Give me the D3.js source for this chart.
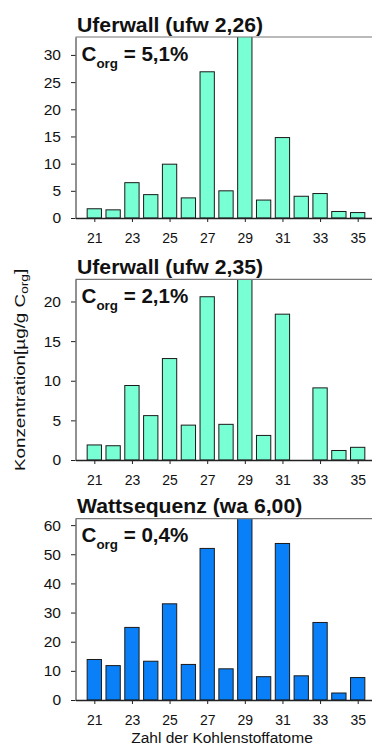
<!DOCTYPE html>
<html>
<head>
<meta charset="utf-8">
<script src="https://cdn.jsdelivr.net/npm/d3@7"></script>
<style>
  body { margin: 0; background: #fff; }
  svg { display: block; font-family: "Liberation Sans", Arial, sans-serif; }
</style>
</head>
<body>
<svg width="372" height="745"></svg>
<script>
const carbons = [21, 22, 23, 24, 25, 26, 27, 28, 29, 30, 31, 32, 33, 34, 35];
const xTickLabels = [21, 23, 25, 27, 29, 31, 33, 35];

// C29 bars run past the top of each panel, so their real height is a guess
const ufw226 = [1.7, 1.5, 6.5, 4.3, 9.9, 3.7, 26.9, 5.0, 36, 3.3, 14.8, 4.0, 4.5, 1.2, 1.0];
const ufw235 = [1.9, 1.8, 9.4, 5.6, 12.8, 4.4, 20.6, 4.5, 25, 3.1, 18.4, 0, 9.1, 1.2, 1.6];
const wa600 = [13.9, 11.8, 24.9, 13.3, 33.0, 12.2, 52.0, 10.7, 68, 8.0, 53.7, 8.3, 26.6, 2.4, 7.7];

const titles = ['Uferwall (ufw 2,26)', 'Uferwall (ufw 2,35)', 'Wattsequenz (wa 6,00)'];
const corgValues = ['5,1%', '2,1%', '0,4%'];
const yMax = [33.3, 22.8, 62.2];
const yTicks = [[0, 5, 10, 15, 20, 25, 30], [0, 5, 10, 15, 20], [0, 10, 20, 30, 40, 50, 60]];
const series = [ufw226, ufw235, wa600];
const colors = ['#78ffd4', '#78ffd4', '#0a80f8'];

const panels = [
    { top: 37, bottom: 218 },
    { top: 279.3, bottom: 460 },
    { top: 518.7, bottom: 700 },
];

const svg = d3.select('svg');

const xScale = d3.scaleLinear()
    .domain([20, 36])
    .range([75.5, 376.5]);
const barWidth = 14.3;

panels.forEach((p, i) => {
    const yScale = d3.scaleLinear()
        .domain([0, yMax[i]])
        .range([p.bottom, p.top]);

    const g = svg.append('g');

    g.append('clipPath')
        .attr('id', 'clip' + i)
        .append('rect')
        .attr('x', 75.5)
        .attr('y', p.top)
        .attr('width', 300)
        .attr('height', p.bottom - p.top);

    g.append('g')
        .attr('clip-path', `url(#clip${i})`)
        .selectAll('.bar')
        .data(carbons.map((c, j) => ({ c, v: series[i][j] })).filter(d => d.v > 0))
        .enter()
        .append('rect')
        .classed('bar', true)
        .attr('x', d => xScale(d.c) - barWidth / 2)
        .attr('y', d => yScale(d.v))
        .attr('width', barWidth)
        .attr('height', d => p.bottom - yScale(d.v))
        .attr('fill', colors[i])
        .attr('stroke', '#1a1a1a')
        .attr('stroke-width', 1);

    // top frame line
    g.append('line')
        .attr('x1', 75.5)
        .attr('x2', 372)
        .attr('y1', p.top)
        .attr('y2', p.top)
        .attr('stroke', '#777')
        .attr('stroke-width', 1.2);

    // x-axis
    const xAxis = g.append('g')
        .attr('transform', `translate(0, ${p.bottom})`)
        .call(d3.axisBottom(xScale).tickValues(xTickLabels).tickSize(4).tickSizeOuter(0).tickPadding(11));
    xAxis.select('.domain').attr('stroke', '#222').attr('stroke-width', 1.4);
    xAxis.selectAll('.tick line').attr('stroke', '#222');
    xAxis.selectAll('text')
        .attr('font-size', 14)
        .attr('fill', '#111');

    // y-axis
    const yAxis = g.append('g')
        .attr('transform', 'translate(75.5, 0)')
        .call(d3.axisLeft(yScale).tickValues(yTicks[i]).tickSize(4.5).tickSizeOuter(0).tickPadding(10));
    yAxis.select('.domain').attr('stroke', '#222');
    yAxis.selectAll('.tick line').attr('stroke', '#222');
    yAxis.selectAll('text')
        .attr('font-size', 15.5)
        .attr('fill', '#111');

    g.append('text')
        .attr('transform', `translate(77, ${p.top - 5.5}) scale(1.06, 1)`)
        .attr('font-size', 20)
        .attr('font-weight', 'bold')
        .attr('fill', '#111')
        .text(titles[i]);

    const corg = g.append('text')
        .attr('transform', `translate(81.5, ${p.top + 23.5}) scale(1.03, 1)`)
        .attr('font-size', 20)
        .attr('font-weight', 'bold')
        .attr('fill', '#111');
    corg.append('tspan').text('C');
    corg.append('tspan').attr('font-size', 13).attr('dy', 7).text('org');
    corg.append('tspan').attr('dy', -7).text(' = ' + corgValues[i]);
});

const yLabel = svg.append('text')
    .attr('transform', 'translate(25, 370) rotate(-90) scale(1.3, 1)')
    .attr('text-anchor', 'middle')
    .attr('font-size', 14.5)
    .attr('fill', '#111');
yLabel.append('tspan').text('Konzentration[µg/g C');
yLabel.append('tspan').attr('font-size', 10.5).attr('dy', 3).text('org');
yLabel.append('tspan').attr('dy', -3).text(']');

svg.append('text')
    .attr('x', 222)
    .attr('y', 743)
    .attr('text-anchor', 'middle')
    .attr('font-size', 15.5)
    .attr('fill', '#111')
    .text('Zahl der Kohlenstoffatome');
</script>
</body>
</html>
